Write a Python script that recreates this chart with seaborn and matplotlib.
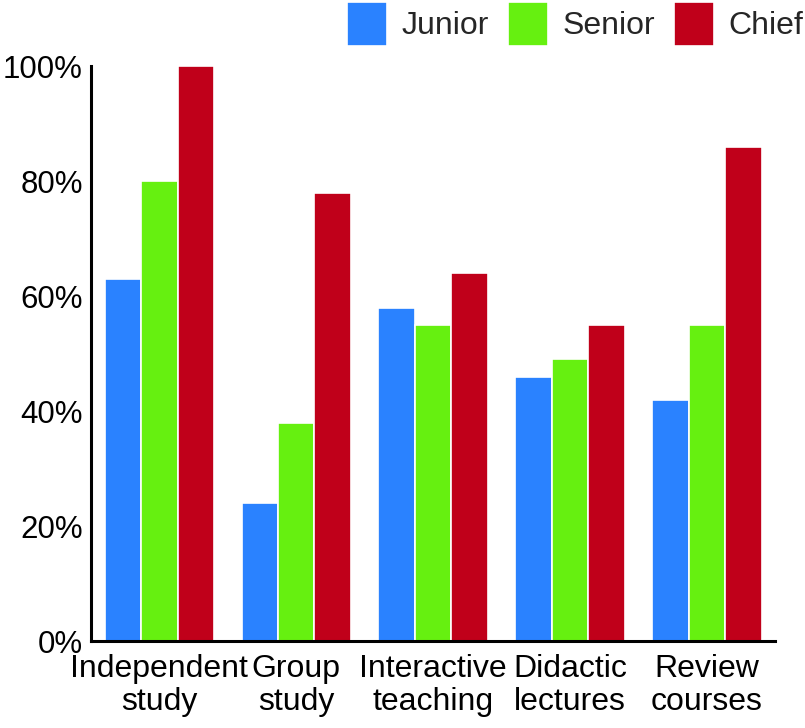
import matplotlib
matplotlib.use("Agg")
import matplotlib.pyplot as plt
import pandas as pd
import seaborn as sns

# values (percent)
categories = ["Independent\nstudy", "Group\nstudy", "Interactive\nteaching",
              "Didactic\nlectures", "Review\ncourses"]
junior = [63, 24, 58, 46, 42]
senior = [80, 38, 55, 49, 55]
chief = [100, 78, 64, 55, 86]
groups = ["Junior", "Senior", "Chief"]
colors = ["#2A82FF", "#66F010", "#C0001A"]
y_ticks = [0, 20, 40, 60, 80, 100]

df = pd.DataFrame({
    "category": categories * 3,
    "level": [g for g in groups for _ in categories],
    "value": junior + senior + chief,
})

sns.set_style("white")
plt.rcParams["font.family"] = ["Liberation Sans", "DejaVu Sans"]

fig = plt.figure(figsize=(8.05, 7.28), dpi=100)
ax = fig.add_axes([0.113, 0.1195, 0.85, 0.7895])

sns.barplot(
    data=df, x="category", y="value", hue="level",
    order=categories, hue_order=groups, palette=colors,
    width=0.8, edgecolor="white", linewidth=1.2, saturation=1,
    ax=ax,
)

ax.set_ylim(0, 100)
ax.set_xlim(-0.5, 4.5)
ax.set_yticks(y_ticks)
ax.set_yticklabels([f"{t}%" for t in y_ticks])
ax.set_xlabel("")
ax.set_ylabel("")
ax.tick_params(axis="x", length=0, labelsize=23, colors="black", pad=9)
ax.tick_params(axis="y", length=0, labelsize=22.5, colors="black", pad=6)
for lbl in ax.get_xticklabels():
    lbl.set_linespacing(1.15)

for side in ["top", "right"]:
    ax.spines[side].set_visible(False)
for side in ["left", "bottom"]:
    ax.spines[side].set_color("black")
    ax.spines[side].set_linewidth(2.2)

handles, labels = ax.get_legend_handles_labels()
ax.get_legend().remove()
fig.legend(
    handles, labels, loc="upper right", bbox_to_anchor=(1.0, 1.0),
    ncol=3, frameon=False, fontsize=23, borderaxespad=0.0,
    handlelength=1.25, handleheight=1.75, handletextpad=0.45,
    columnspacing=0.6, borderpad=0.05,
)

fig.savefig("out.png", dpi=100)
